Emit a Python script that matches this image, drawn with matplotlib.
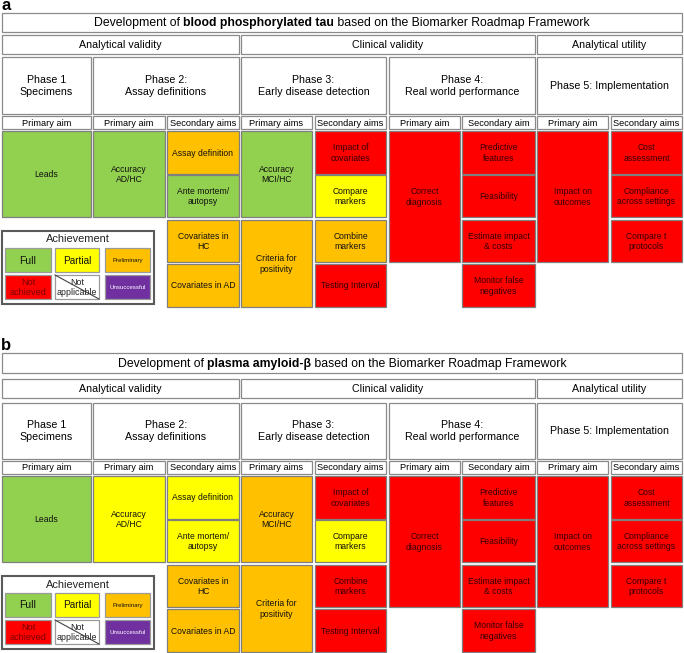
import matplotlib
matplotlib.use('Agg')
import matplotlib.pyplot as plt
from matplotlib.patches import Rectangle

plt.rcParams['font.family'] = ['Liberation Sans', 'DejaVu Sans']

# ---- data ----
panel_letters = ['a', 'b']
biomarkers = ['blood phosphorylated tau', 'plasma amyloid-β']
validity_groups = ['Analytical validity', 'Clinical validity', 'Analytical utility']
phases = ['Phase 1\nSpecimens', 'Phase 2:\nAssay definitions', 'Phase 3:\nEarly disease detection',
          'Phase 4:\nReal world performance', 'Phase 5: Implementation']
aim_headers = ['Primary aim', 'Primary aim', 'Secondary aims', 'Primary aims', 'Secondary aims',
               'Primary aim', 'Secondary aim', 'Primary aim', 'Secondary aims']

aim_items = [
    ['Leads'],
    ['Accuracy\nAD/HC'],
    ['Assay definition', 'Ante mortem/\nautopsy', 'Covariates in\nHC', 'Covariates in AD'],
    ['Accuracy\nMCI/HC', 'Criteria for\npositivity'],
    ['Impact of\ncovariates', 'Compare\nmarkers', 'Combine\nmarkers', 'Testing Interval'],
    ['Correct\ndiagnosis'],
    ['Predictive\nfeatures', 'Feasibility', 'Estimate impact\n& costs', 'Monitor false\nnegatives'],
    ['Impact on\noutcomes'],
    ['Cost\nassessment', 'Compliance\nacross settings', 'Compare t\nprotocols'],
]

status_tau = [
    ['Full'],
    ['Full'],
    ['Preliminary', 'Full', 'Preliminary', 'Preliminary'],
    ['Full', 'Preliminary'],
    ['Not achieved', 'Partial', 'Preliminary', 'Not achieved'],
    ['Not achieved'],
    ['Not achieved', 'Not achieved', 'Not achieved', 'Not achieved'],
    ['Not achieved'],
    ['Not achieved', 'Not achieved', 'Not achieved'],
]
status_abeta = [
    ['Full'],
    ['Partial'],
    ['Partial', 'Partial', 'Preliminary', 'Preliminary'],
    ['Preliminary', 'Preliminary'],
    ['Not achieved', 'Partial', 'Not achieved', 'Not achieved'],
    ['Not achieved'],
    ['Not achieved', 'Not achieved', 'Not achieved', 'Not achieved'],
    ['Not achieved'],
    ['Not achieved', 'Not achieved', 'Not achieved'],
]
statuses = [status_tau, status_abeta]

legend_keys = ['Full', 'Partial', 'Preliminary', 'Not achieved', 'Not applicable', 'Unsuccessful']
legend_labels = ['Full', 'Partial', 'Preliminary', 'Not\nachieved', 'Not\napplicable', 'Unsuccessful']

# ---- styles / layout ----
fill = {'Full': '#92D050', 'Partial': '#FFFF00', 'Preliminary': '#FFC000',
        'Not achieved': '#FF0000', 'Not applicable': '#FFFFFF', 'Unsuccessful': '#7030A0'}
txt_col = {'Full': '#111111', 'Partial': '#111111', 'Preliminary': '#111111',
           'Not achieved': '#330000', 'Not applicable': '#222222', 'Unsuccessful': '#ffffff'}

col_x = [(2, 91), (93, 165), (167, 239), (241, 312), (315, 386),
         (389, 460), (462, 535), (537, 608), (611, 682)]
phase_cols = [(0, 0), (1, 2), (3, 4), (5, 6), (7, 8)]
group_cols = [(0, 2), (3, 6), (7, 8)]
# slot index spans for each item of each column
item_slots = [
    [(0, 1)], [(0, 1)], [(0, 0), (1, 1), (2, 2), (3, 3)], [(0, 1), (2, 3)],
    [(0, 0), (1, 1), (2, 2), (3, 3)], [(0, 2)], [(0, 0), (1, 1), (2, 2), (3, 3)],
    [(0, 2)], [(0, 0), (1, 1), (2, 2)],
]
slot_top = [0, 44, 89, 133]
slot_bot = [43, 86, 131, 176]

panels = [
    dict(label=9.5, title=(13, 32), group=(35, 54), phase=(57, 114), aims=(116, 129), data=131, leg=231),
    dict(label=350, title=(353, 373), group=(379, 398), phase=(403, 459), aims=(461, 474), data=476, leg=576),
]

W, H = 684, 653
fig = plt.figure(figsize=(W / 100, H / 100), dpi=100)
ax = fig.add_axes([0, 0, 1, 1])
ax.set_xlim(0, W)
ax.set_ylim(H, 0)
ax.axis('off')
renderer = fig.canvas.get_renderer()


def box(x0, x1, y0, y1, fc='white', ec='#8a8a8a', lw=0.9, z=2):
    ax.add_patch(Rectangle((x0, y0), x1 - x0, y1 - y0, facecolor=fc, edgecolor=ec, lw=lw, zorder=z))


for p, lay in enumerate(panels):
    ax.text(1, lay['label'], panel_letters[p], fontsize=12, fontweight='bold', va='baseline', ha='left')

    # title line with bold biomarker name
    t0, t1 = lay['title']
    box(2, 682, t0, t1)
    yc = (t0 + t1) / 2 + 0.5
    parts = [('Development of ', 'normal'), (biomarkers[p], 'bold'),
             (' based on the Biomarker Roadmap Framework', 'normal')]
    objs = [ax.text(0, yc, s, fontsize=8.8, fontweight=w, va='center', ha='left', zorder=5) for s, w in parts]
    widths = [o.get_window_extent(renderer).width for o in objs]
    x = 342 - sum(widths) / 2
    for o, w in zip(objs, widths):
        o.set_x(x)
        x += w

    # validity groups
    g0, g1 = lay['group']
    for name, (c0, c1) in zip(validity_groups, group_cols):
        x0, x1 = col_x[c0][0], col_x[c1][1]
        box(x0, x1, g0, g1)
        ax.text((x0 + x1) / 2, (g0 + g1) / 2 + 0.5, name, fontsize=7.7, ha='center', va='center', zorder=5)

    # phases
    f0, f1 = lay['phase']
    for name, (c0, c1) in zip(phases, phase_cols):
        x0, x1 = col_x[c0][0], col_x[c1][1]
        box(x0, x1, f0, f1)
        ax.text((x0 + x1) / 2, (f0 + f1) / 2 + 0.5, name, fontsize=7.7, ha='center', va='center',
                linespacing=1.25, zorder=5)

    # aim headers
    a0, a1 = lay['aims']
    for name, (x0, x1) in zip(aim_headers, col_x):
        box(x0, x1, a0, a1)
        ax.text((x0 + x1) / 2, (a0 + a1) / 2 + 0.5, name, fontsize=6.7, ha='center', va='center', zorder=5)

    # achievement cells
    d = lay['data']
    for ci, (x0, x1) in enumerate(col_x):
        for item, st, (s0, s1) in zip(aim_items[ci], statuses[p][ci], item_slots[ci]):
            y0, y1 = d + slot_top[s0], d + slot_bot[s1]
            box(x0, x1, y0, y1, fc=fill[st], ec='#7f7f7f', lw=0.9)
            ax.text((x0 + x1) / 2, (y0 + y1) / 2 + 0.5, item, fontsize=6.2, ha='center', va='center',
                    color=txt_col[st], linespacing=1.2, zorder=5)

    # legend
    l0 = lay['leg']
    box(2, 154, l0, l0 + 73, ec='#5a5a5a', lw=1.5)
    ax.text(78, l0 + 8.5, 'Achievement', fontsize=7.9, ha='center', va='center', color='#222222', zorder=5)
    sw_x = [(5, 51), (55, 99), (105, 150)]
    sw_y = [(l0 + 17, l0 + 41), (l0 + 44, l0 + 68)]
    sizes = {'Full': 7.5, 'Partial': 7.2, 'Preliminary': 4.4, 'Not achieved': 6.6,
             'Not applicable': 6.4, 'Unsuccessful': 4.4}
    for k, (key, lab) in enumerate(zip(legend_keys, legend_labels)):
        x0, x1 = sw_x[k % 3]
        y0, y1 = sw_y[k // 3]
        box(x0, x1, y0, y1, fc=fill[key], ec='#9a9a9a', lw=0.9, z=6)
        if key == 'Not applicable':
            ax.plot([x0, x1], [y0, y1], color='#444444', lw=0.8, zorder=7)
        tc = '#7a0000' if key == 'Not achieved' else txt_col[key]
        ax.text((x0 + x1) / 2, (y0 + y1) / 2 + 0.5, lab, fontsize=sizes[key], ha='center', va='center',
                color=tc, linespacing=1.1, zorder=8)

fig.savefig('out.png', dpi=100)
